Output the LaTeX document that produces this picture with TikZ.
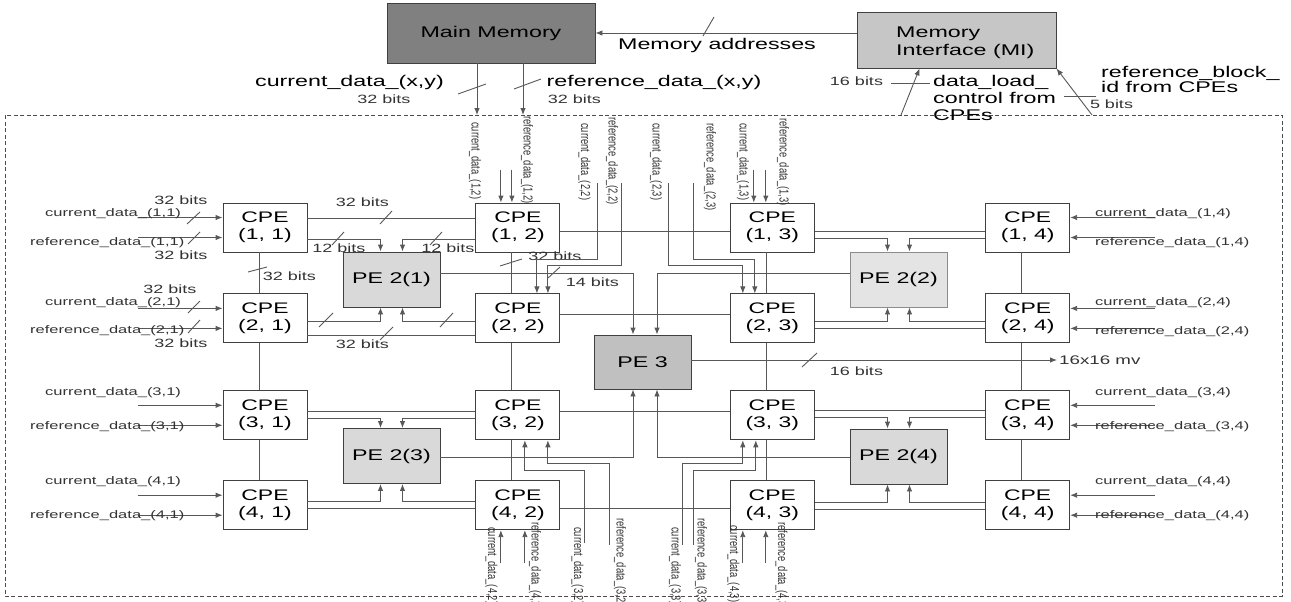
\documentclass[tikz,border=0pt]{standalone}
\usepackage{fontspec}
\setmainfont{Liberation Sans}[FakeStretch=1.5]
\newfontfamily\vlabfont{Liberation Sans}[FakeStretch=0.72]
\usetikzlibrary{arrows.meta,positioning}
\definecolor{MemGray}{HTML}{808080}
\definecolor{MIGray}{HTML}{C6C6C6}
\definecolor{PEGray}{HTML}{D9D9D9}
\definecolor{PELight}{HTML}{E4E4E4}
\definecolor{PEDark}{HTML}{C0C0C0}
\definecolor{WireGray}{HTML}{585858}

\begin{document}
\begin{tikzpicture}[x=1pt, y=-1pt,
  cpe/.style={draw=black!75, fill=white, line width=0.9pt, minimum width=84pt,
              minimum height=49pt, inner sep=0pt, align=center,
              font=\fontsize{15.3}{17}\selectfont},
  pebox/.style={draw=black!75, fill=PEGray, line width=0.9pt, minimum width=97pt,
                minimum height=55pt, inner sep=0pt, font=\fontsize{15.5}{17}\selectfont},
  membox/.style={draw=black!75, line width=0.9pt, inner sep=0pt,
                 font=\fontsize{15.5}{18}\selectfont},
  wire/.style={draw=WireGray, line width=0.9pt},
  sig/.style={wire, -{Latex[length=7pt,width=5.5pt]}},
  tick/.style={draw=WireGray, line width=0.9pt},
  frame/.style={draw=black!70, line width=0.8pt, dash pattern=on 4pt off 2.5pt},
  biglbl/.style={inner sep=0pt, font=\fontsize{15.5}{17}\selectfont},
  bitlbl/.style={inner sep=0pt, text=black!80, font=\fontsize{12}{14}\selectfont},
  inlbl/.style={inner sep=0pt, anchor=west, text=black!80, font=\fontsize{11}{13}\selectfont},
  vlbl/.style={inner sep=0pt, rotate=-90, anchor=west, text=black!80,
               font=\vlabfont\fontsize{13}{15}\selectfont}
]
  \useasboundingbox (0,0) rectangle (1291,602);

  % memories
  \node[membox, fill=MemGray, minimum width=208pt, minimum height=60pt] (mm) at (491,33) {Main Memory};
  \node[membox, fill=MIGray, minimum width=199pt, minimum height=56pt] (mi) at (956.5,40) {};
  \node[biglbl, anchor=west, align=left, font=\fontsize{15.5}{18}\selectfont] (mitxt) at (896,43) {Memory\\Interface (MI)};

  % array border
  \coordinate (fnw) at (5,115);
  \coordinate (fse) at (1282,596);
  \draw[frame] (fnw) rectangle (fse);
  \coordinate (dl) at (901,115);
  \coordinate (rb) at (1092,115);

  % CPE array
  \node[cpe] (c11) at (265,227.5) {CPE\\(1, 1)};
  \node[cpe, right=168pt of c11] (c12) {CPE\\(1, 2)};
  \node[cpe, right=169.5pt of c12] (c13) {CPE\\(1, 3)};
  \node[cpe, right=170.5pt of c13] (c14) {CPE\\(1, 4)};
  \node[cpe, below=41pt of c11] (c21) {CPE\\(2, 1)};
  \node[cpe, below=41pt of c12] (c22) {CPE\\(2, 2)};
  \node[cpe, below=41pt of c13] (c23) {CPE\\(2, 3)};
  \node[cpe, below=41pt of c14] (c24) {CPE\\(2, 4)};
  \node[cpe, below=47pt of c21] (c31) {CPE\\(3, 1)};
  \node[cpe, below=47pt of c22] (c32) {CPE\\(3, 2)};
  \node[cpe, below=47pt of c23] (c33) {CPE\\(3, 3)};
  \node[cpe, below=47pt of c24] (c34) {CPE\\(3, 4)};
  \node[cpe, below=40pt of c31] (c41) {CPE\\(4, 1)};
  \node[cpe, below=40pt of c32] (c42) {CPE\\(4, 2)};
  \node[cpe, below=40pt of c33] (c43) {CPE\\(4, 3)};
  \node[cpe, below=40pt of c34] (c44) {CPE\\(4, 4)};

  \node[pebox] (pe21) at (391.5,279.5) {PE 2(1)};
  \node[pebox, fill=PELight, draw=black!45] (pe22) at (898.5,279.5) {PE 2(2)};
  \node[pebox] (pe23) at (391.5,456) {PE 2(3)};
  \node[pebox] (pe24) at (898.5,456.5) {PE 2(4)};
  \node[pebox, fill=PEDark, minimum height=54pt] (pe3) at (642.5,362) {PE 3};

  % memory side
  \draw[sig] (mi.west |- mm.east) -- (mm.east);
  \draw[tick] (703,36) -- (714,17);
  \node[biglbl] (addr) at (717,45) {Memory addresses};
  \draw[sig] ([xshift=-14pt]mm.south) -- ([xshift=-14pt]mm.south |- fnw);
  \draw[sig] ([xshift=32pt]mm.south) -- ([xshift=32pt]mm.south |- fnw);
  \draw[tick] (458,94) -- (486,84);
  \draw[tick] (514,89) -- (541,79);
  \node[biglbl] (curxy) at (349.5,82) {current\_data\_(x,y)};
  \node[bitlbl] (b1) at (384,99) {32 bits};
  \node[biglbl] (refxy) at (654,82) {reference\_data\_(x,y)};
  \node[bitlbl] (b2) at (574.5,99) {32 bits};
  \draw[sig] (dl) -- ([xshift=63pt]mi.south west);
  \draw[tick] (891,83) -- (930,83);
  \node[bitlbl] (b3) at (856.5,81) {16 bits};
  \node[biglbl, anchor=west, align=left] (dlc) at (933,97.5) {data\_load\_\\control from\\CPEs};
  \draw[sig] (rb) -- (mi.south east);
  \draw[tick] (1064,96) -- (1096,96);
  \node[bitlbl] (b4) at (1111.5,104) {5 bits};
  \node[biglbl, anchor=west, align=left, font=\fontsize{15.5}{15.5}\selectfont] (rbid) at (1101,79.5) {reference\_block\_\\id from CPEs};

  % left inputs
  \foreach \r in {1,...,4}{
    \draw[sig] ([shift={(-85pt,10pt)}]c\r1.west) -- ([yshift=10pt]c\r1.west);
    \draw[sig] ([shift={(-85pt,-10pt)}]c\r1.west) -- ([yshift=-10pt]c\r1.west);
    \draw[sig] ([shift={(85pt,10pt)}]c\r4.east) -- ([yshift=10pt]c\r4.east);
    \draw[sig] ([shift={(85pt,-10pt)}]c\r4.east) -- ([yshift=-10pt]c\r4.east);
  }
  \node[inlbl] (l1c) at (45,214) {current\_data\_(1,1)};
  \node[inlbl] (l1r) at (30,243) {reference\_data\_(1,1)};
  \node[inlbl] (l2c) at (45,303) {current\_data\_(2,1)};
  \node[inlbl] (l2r) at (30,331) {reference\_data\_(2,1)};
  \node[inlbl] (l3c) at (45,393) {current\_data\_(3,1)};
  \node[inlbl] (l3r) at (30,427) {reference\_data\_(3,1)};
  \node[inlbl] (l4c) at (45,482) {current\_data\_(4,1)};
  \node[inlbl] (l4r) at (30,516) {reference\_data\_(4,1)};
  \node[inlbl] (r1c) at (1095,214) {current\_data\_(1,4)};
  \node[inlbl] (r1r) at (1095,243) {reference\_data\_(1,4)};
  \node[inlbl] (r2c) at (1095,303) {current\_data\_(2,4)};
  \node[inlbl] (r2r) at (1095,332) {reference\_data\_(2,4)};
  \node[inlbl] (r3c) at (1095,393) {current\_data\_(3,4)};
  \node[inlbl] (r3r) at (1095,427) {reference\_data\_(3,4)};
  \node[inlbl] (r4c) at (1095,482) {current\_data\_(4,4)};
  \node[inlbl] (r4r) at (1095,516) {reference\_data\_(4,4)};
  \draw[tick] (187,224) -- (200,212);
  \draw[tick] (188,244) -- (200,232);
  \draw[tick] (188,313) -- (200,301);
  \draw[tick] (188,333) -- (200,320);
  \node[bitlbl] (b5) at (181,200) {32 bits};
  \node[bitlbl] (b6) at (181,255) {32 bits};
  \node[bitlbl] (b7) at (170,289) {32 bits};
  \node[bitlbl] (b8) at (181,343) {32 bits};

  % columns
  \foreach \c in {1,...,4}{
    \draw[wire] ([xshift=-6pt]c1\c.south) -- ([xshift=-6pt]c2\c.north);
    \draw[wire] ([xshift=-6pt]c2\c.south) -- ([xshift=-6pt]c3\c.north);
    \draw[wire] ([xshift=-6pt]c3\c.south) -- ([xshift=-6pt]c4\c.north);
  }
  \draw[tick] (248,272) -- (267,267);
  \node[bitlbl] (b9) at (289.5,276) {32 bits};
  \draw[tick] (500,266) -- (522,259);
  \node[bitlbl] (b10) at (555,256) {32 bits};

  % row 1
  \draw[wire] ([yshift=9.5pt]c11.east) -- ([yshift=9.5pt]c12.west);
  \draw[sig] ([yshift=-11.5pt]c11.east) -| ([xshift=-11pt]pe21.north);
  \draw[sig] ([yshift=-11.5pt]c12.west) -| ([xshift=11pt]pe21.north);
  \draw[wire] ([yshift=-3.5pt]c12.east) -- ([yshift=-3.5pt]c13.west);
  \draw[wire] ([yshift=-3.5pt]c13.east) -- ([yshift=-3.5pt]c14.west);
  \draw[sig] ([yshift=-10.5pt]c13.east) -| ([xshift=-11pt]pe22.north);
  \draw[sig] ([yshift=-10.5pt]c14.west) -| ([xshift=11pt]pe22.north);
  \draw[tick] (380,224) -- (392,211);
  \node[bitlbl] (b11) at (362.5,202) {32 bits};
  \draw[tick] (332,245) -- (344,232);
  \draw[tick] (430,245) -- (442,232);
  \node[bitlbl] (b12) at (339,248) {12 bits};
  \node[bitlbl] (b13) at (448,248) {12 bits};

  % row 2
  \draw[sig] ([yshift=-3pt]c21.east) -| ([xshift=-11pt]pe21.south);
  \draw[sig] ([yshift=-3pt]c22.west) -| ([xshift=11pt]pe21.south);
  \draw[wire] ([yshift=-17pt]c21.east) -- ([yshift=-17pt]c22.west);
  \draw[wire] ([yshift=4pt]c22.east) -- ([yshift=4pt]c23.west);
  \draw[sig] ([yshift=-3pt]c23.east) -| ([xshift=-11pt]pe22.south);
  \draw[sig] ([yshift=-3pt]c24.west) -| ([xshift=11pt]pe22.south);
  \draw[wire] ([yshift=-10pt]c23.east) -- ([yshift=-10pt]c24.west);
  \draw[tick] (319,327) -- (333,313);
  \draw[tick] (440,327) -- (453,313);
  \draw[tick] (380,340) -- (393,327);
  \node[bitlbl] (b14) at (362.5,344) {32 bits};

  % row 3
  \draw[wire] ([yshift=3.5pt]c31.east) -- ([yshift=3.5pt]c32.west);
  \draw[sig] ([yshift=-3.5pt]c31.east) -| ([xshift=-11pt]pe23.north);
  \draw[sig] ([yshift=-3.5pt]c32.west) -| ([xshift=11pt]pe23.north);
  \draw[wire] ([yshift=3.5pt]c32.east) -- ([yshift=3.5pt]c33.west);
  \draw[wire] ([yshift=4.5pt]c33.east) -- ([yshift=4.5pt]c34.west);
  \draw[sig] ([yshift=-2.5pt]c33.east) -| ([xshift=-11pt]pe24.north);
  \draw[sig] ([yshift=-2.5pt]c34.west) -| ([xshift=11pt]pe24.north);

  % row 4
  \draw[sig] ([yshift=4pt]c41.east) -| ([xshift=-11pt]pe23.south);
  \draw[sig] ([yshift=4pt]c42.west) -| ([xshift=11pt]pe23.south);
  \draw[wire] ([yshift=-3pt]c41.east) -- ([yshift=-3pt]c42.west);
  \draw[wire] ([yshift=-3pt]c42.east) -- ([yshift=-3pt]c43.west);
  \draw[sig] ([yshift=3pt]c43.east) -| ([xshift=-11pt]pe24.south);
  \draw[sig] ([yshift=3pt]c44.west) -| ([xshift=11pt]pe24.south);
  \draw[wire] ([yshift=-4pt]c43.east) -- ([yshift=-4pt]c44.west);

  % PE 2 -> PE 3
  \draw[sig] ([yshift=6.5pt]pe21.east) -| ([xshift=-9.5pt]pe3.north);
  \draw[sig] ([yshift=6.5pt]pe22.west) -| ([xshift=14.5pt]pe3.north);
  \draw[sig] ([yshift=-1pt]pe23.east) -| ([xshift=-9.5pt]pe3.south);
  \draw[sig] ([yshift=-0.5pt]pe24.west) -| ([xshift=14.5pt]pe3.south);
  \draw[tick] (548,278) -- (560,267);
  \node[bitlbl] (b15) at (592.5,282) {14 bits};
  \node[bitlbl, anchor=west, inner sep=2pt, font=\fontsize{12.5}{14}\selectfont] (mv) at (1057,360) {16x16 mv};
  \draw[sig] (pe3.east |- mv.west) -- (mv.west);
  \draw[tick] (802,367) -- (817,353);
  \node[bitlbl] (b16) at (856.5,371) {16 bits};

  % top feeds
  \node[vlbl] (t12c) at (475,122) {current\_data\_(1,2)};
  \node[vlbl] (t12r) at (527,116) {reference\_data\_(1,2)};
  \node[vlbl] (t22c) at (584.5,123) {current\_data\_(2,2)};
  \node[vlbl] (t22r) at (612,117) {reference\_data\_(2,2)};
  \node[vlbl] (t23c) at (656,123) {current\_data\_(2,3)};
  \node[vlbl] (t23r) at (710,123) {reference\_data\_(2,3)};
  \node[vlbl] (t13c) at (743,123) {current\_data\_(1,3)};
  \node[vlbl] (t13r) at (783,118) {reference\_data\_(1,3)};
  \draw[sig] ([shift={(-17pt,33pt)}]c12.north) -- ([xshift=-17pt]c12.north);
  \draw[sig] ([shift={(-6pt,33pt)}]c12.north) -- ([xshift=-6pt]c12.north);
  \draw[sig] ([shift={(-18.5pt,33pt)}]c13.north) -- ([xshift=-18.5pt]c13.north);
  \draw[sig] ([shift={(-6.5pt,33pt)}]c13.north) -- ([xshift=-6.5pt]c13.north);
  \draw[sig] (597,183) -- (597,259) -| ([xshift=19pt]c22.north);
  \draw[sig] (621,183) -- (621,265) -| ([xshift=30pt]c22.north);
  \draw[sig] (668,183) -- (668,265) -| ([xshift=-29.5pt]c23.north);
  \draw[sig] (693,183) -- (693,259) -| ([xshift=-17.5pt]c23.north);

  % bottom feeds
  \node[vlbl] (b42c) at (491.5,527) {current\_data\_(4,2)};
  \node[vlbl] (b42r) at (535,522) {reference\_data\_(4,2)};
  \node[vlbl] (b32c) at (577.5,527) {current\_data\_(3,2)};
  \node[vlbl] (b32r) at (620,518) {reference\_data\_(3,2)};
  \node[vlbl] (b33c) at (675,527) {current\_data\_(3,3)};
  \node[vlbl] (b33r) at (701,518) {reference\_data\_(3,3)};
  \node[vlbl] (b43c) at (733.5,525) {current\_data\_(4,3)};
  \node[vlbl] (b43r) at (781.5,522) {reference\_data\_(4,3)};
  \draw[sig] ([shift={(-17pt,-33pt)}]c42.south) -- ([xshift=-17pt]c42.south);
  \draw[sig] ([shift={(7pt,-33pt)}]c42.south) -- ([xshift=7pt]c42.south);
  \draw[sig] ([shift={(-29.5pt,-33pt)}]c43.south) -- ([xshift=-29.5pt]c43.south);
  \draw[sig] ([shift={(-6.5pt,-33pt)}]c43.south) -- ([xshift=-6.5pt]c43.south);
  \draw[sig] (584,543) -- (584,470) -| ([xshift=7pt]c32.south);
  \draw[sig] (609,545) -- (609,463) -| ([xshift=30pt]c32.south);
  \draw[sig] (682,545) -- (682,463) -| ([xshift=-29.5pt]c33.south);
  \draw[sig] (693,545) -- (693,470) -| ([xshift=-16.5pt]c33.south);
\end{tikzpicture}
\end{document}
